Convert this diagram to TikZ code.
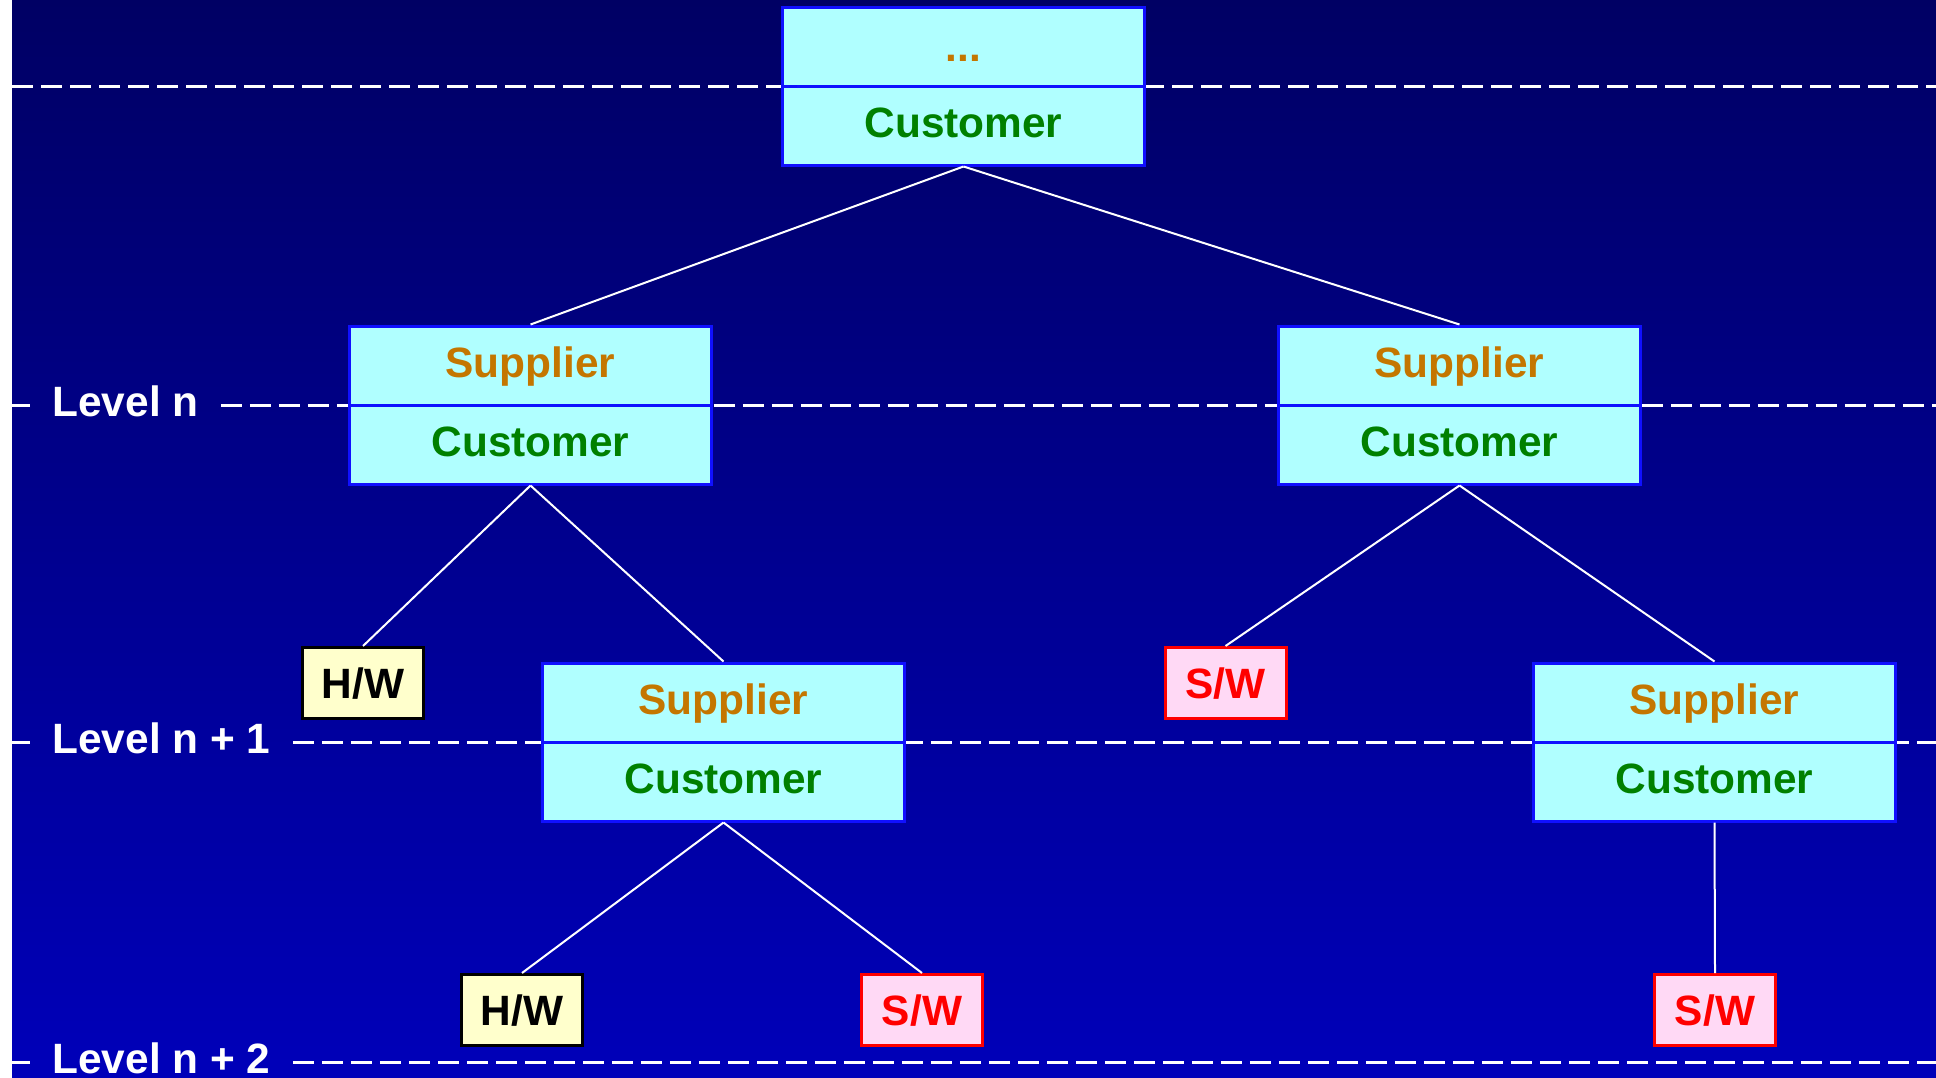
\documentclass[tikz,border=0pt]{standalone}
\usepackage{fontspec}
\setmainfont{Liberation Sans}
\definecolor{bgtop}{RGB}{0,0,100}
\definecolor{bgbot}{RGB}{0,0,185}
\definecolor{boxfill}{RGB}{176,255,255}
\definecolor{boxline}{RGB}{16,16,255}
\definecolor{supcol}{RGB}{196,118,0}
\definecolor{cuscol}{RGB}{0,128,0}
\definecolor{hwfill}{RGB}{255,255,204}
\definecolor{swfill}{RGB}{255,217,245}
\begin{document}
\begin{tikzpicture}[x=0.5pt,y=-0.5pt,
	every node/.style={font=\fontsize{21.2}{25}\selectfont\bfseries},
	halfbox/.style={draw=boxline,fill=boxfill,line width=1.5pt,minimum width=181pt,minimum height=39.5pt,inner sep=0pt,text height=15.9pt,text depth=4.2pt},
	supbox/.style={halfbox,text=supcol},
	cusbox/.style={halfbox,text=cuscol},
	hwbox/.style={draw=black,fill=hwfill,line width=1.5pt,minimum width=60.5pt,minimum height=35.5pt,inner sep=0pt,text height=15.2pt,text depth=0pt},
	swbox/.style={hwbox,draw=red,fill=swfill,text=red},
	lvl/.style={text=white,inner xsep=11pt,anchor=west,text height=15.9pt,text depth=4.2pt},
	lvline/.style={white,line width=1.5pt,dash pattern=on 10.5pt off 4pt},
	conn/.style={white,line width=1pt}]
	% background
	\useasboundingbox (0,0) rectangle (1936,1077);
	\fill[white] (0,0) rectangle (12,1077);
	\shade[top color=bgtop,bottom color=bgbot] (12,0) rectangle (1936,1077);
	% levels
	\node[lvl] (lvA) at (30,405) {Level n};
	\node[lvl] (lvB) at (30,742) {Level n + 1};
	\node[lvl] (lvC) at (30,1062) {Level n + 2};
	\draw[lvline] (12,86) -- (1936,86);
	\foreach \l/\y in {lvA/405,lvB/742,lvC/1062}{
		\draw[lvline] (12,\y) -- (\l.west);
		\draw[lvline] (\l.east) -- (1936,\y);
	}
	% boxes
	\node[supbox] (dots0) at (963.5,46.5) {\raisebox{-1.5pt}{...}};
	\node[cusbox] (cus0) at (963.5,125.5) {Customer};
	\foreach \n/\x/\y in {A/530.5/405,B/1459.5/405,C/723.5/742,D/1714.5/742}{
		\node[supbox] (sup\n) at (\x,\y-39.5) {Supplier};
		\node[cusbox] (cus\n) at (\x,\y+39.5) {Customer};
	}
	\node[hwbox] (hwA) at (363,683) {H/W};
	\node[swbox] (swA) at (1225.5,683) {S/W};
	\node[hwbox] (hwB) at (522,1010) {H/W};
	\node[swbox] (swB) at (922,1010) {S/W};
	\node[swbox] (swC) at (1715,1010) {S/W};
	% links
	\foreach \a/\b in {cus0/supA,cus0/supB,cusA/hwA,cusA/supC,cusB/swA,cusB/supD,cusC/hwB,cusC/swB,cusD/swC}
		\draw[conn] (\a.south) -- (\b.north);
\end{tikzpicture}
\end{document}
